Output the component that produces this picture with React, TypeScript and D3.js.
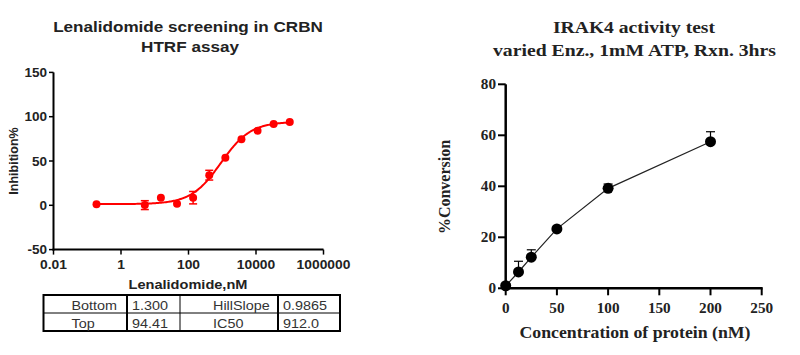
import React from "react";
import * as d3 from "d3";

// ---- Left chart data (Lenalidomide, CRBN HTRF) ----
const lenaConc = [0.188, 5.08, 15.2, 45.7, 137, 412, 1235, 3704, 11111, 33333, 100000];
const lenaInhib = [1.2, 0.2, 8.6, 1.8, 8.6, 34, 53.7, 74.5, 84.2, 91.8, 94];
const lenaErr = [0, 5, 0, 0, 7, 5.5, 0, 0, 0, 0, 0];
const lenaXTicks = [0.01, 1, 100, 10000, 1000000];
const lenaXTickLabels = ["0.01", "1", "100", "10000", "1000000"];
const lenaYTicks = [-50, 0, 50, 100, 150];
const fitBottom = 1.3;
const fitTop = 94.41;
const fitHill = 0.9865;
const fitIC50 = 912.0;
const tableRows = [
  ["Bottom", "1.300", "HillSlope", "0.9865"],
  ["Top", "94.41", "IC50", "912.0"],
];

// ---- Right chart data (IRAK4) ----
const irakConc = [0, 12.5, 25, 50, 100, 200];
const irakConv = [1.0, 6.4, 12.2, 23.3, 39.2, 57.5];
const irakErr = [0, 4.2, 2.9, 0, 1.7, 3.9];
const irakXTicks = [0, 50, 100, 150, 200, 250];
const irakYTicks = [0, 20, 40, 60, 80];

const ARIAL = "'Liberation Sans', Arial, sans-serif";
const TIMES = "'Liberation Serif', 'Times New Roman', serif";

type STextProps = {
  x: number;
  y: number;
  sx?: number;
  anchor?: "start" | "middle" | "end";
  family: string;
  size: number;
  bold?: boolean;
  fill?: string;
  children: React.ReactNode;
};

function SText({ x, y, sx = 1, anchor = "start", family, size, bold = true, fill = "#222", children }: STextProps) {
  return (
    <text
      transform={`translate(${x},${y}) scale(${sx},1)`}
      textAnchor={anchor}
      fontFamily={family}
      fontWeight={bold ? "bold" : "normal"}
      fontSize={size}
      fill={fill}
    >
      {children}
    </text>
  );
}

function LeftChart() {
  const x = d3.scaleLog().domain([0.01, 1e6]).range([53.5, 323.5]);
  const y = d3.scaleLinear().domain([-50, 150]).range([249.6, 72.4]);
  const red = "#ff0000";
  const fit = (c: number) => fitBottom + (fitTop - fitBottom) / (1 + Math.pow(fitIC50 / c, fitHill));
  const lo = Math.log10(lenaConc[0]);
  const hi = Math.log10(lenaConc[lenaConc.length - 1]);
  const xs = d3.range(0, 201).map((i) => Math.pow(10, lo + ((hi - lo) * i) / 200));
  const line = d3
    .line<number>()
    .x((c) => x(c))
    .y((c) => y(fit(c)));
  const colX = [71.5, 132, 213, 283];
  return (
    <g>
      <SText x={188} y={32} sx={1.14} anchor="middle" family={ARIAL} size={15}>
        Lenalidomide screening in CRBN
      </SText>
      <SText x={190} y={51.5} sx={1.14} anchor="middle" family={ARIAL} size={15}>
        HTRF assay
      </SText>
      {/* axes */}
      <line x1={53.5} x2={53.5} y1={y(150)} y2={y(-50) + 1} stroke="#000" strokeWidth={2} />
      <line x1={52.5} x2={x(1e6)} y1={y(-50)} y2={y(-50)} stroke="#000" strokeWidth={2} />
      {lenaYTicks.map((t) => (
        <g key={"ly" + t}>
          <line x1={49} x2={53.5} y1={y(t)} y2={y(t)} stroke="#000" strokeWidth={1.5} />
          <SText x={47} y={y(t) + 4.5} sx={1.06} anchor="end" family={ARIAL} size={12.8}>
            {t}
          </SText>
        </g>
      ))}
      {lenaXTicks.map((t, i) => (
        <g key={"lx" + t}>
          <line x1={x(t)} x2={x(t)} y1={y(-50)} y2={y(-50) + 5} stroke="#000" strokeWidth={1.5} />
          <SText x={x(t)} y={269} sx={1.08} anchor="middle" family={ARIAL} size={12.8}>
            {lenaXTickLabels[i]}
          </SText>
        </g>
      ))}
      <SText x={188} y={288.5} sx={1.12} anchor="middle" family={ARIAL} size={13}>
        Lenalidomide,nM
      </SText>
      <text
        transform={`translate(18,161) rotate(-90)`}
        textAnchor="middle"
        fontFamily={ARIAL}
        fontWeight="bold"
        fontSize={12.5}
        fill="#222"
      >
        Inhibition%
      </text>
      {/* fit curve */}
      <path d={line(xs) || ""} fill="none" stroke={red} strokeWidth={2} />
      {/* error bars */}
      {lenaConc.map((c, i) =>
        lenaErr[i] > 0 ? (
          <g key={"le" + i} stroke={red} strokeWidth={1.5}>
            <line x1={x(c)} x2={x(c)} y1={y(lenaInhib[i] - lenaErr[i])} y2={y(lenaInhib[i] + lenaErr[i])} />
            <line x1={x(c) - 4} x2={x(c) + 4} y1={y(lenaInhib[i] - lenaErr[i])} y2={y(lenaInhib[i] - lenaErr[i])} />
            <line x1={x(c) - 4} x2={x(c) + 4} y1={y(lenaInhib[i] + lenaErr[i])} y2={y(lenaInhib[i] + lenaErr[i])} />
          </g>
        ) : null
      )}
      {lenaConc.map((c, i) => (
        <circle key={"lp" + i} cx={x(c)} cy={y(lenaInhib[i])} r={4} fill={red} />
      ))}
      {/* table */}
      <g>
        <rect x={43.5} y={295} width={296.5} height={36} fill="none" stroke="#000" strokeWidth={2} />
        <line x1={43.5} x2={340} y1={313} y2={313} stroke="#000" strokeWidth={1} />
        <line x1={127} x2={127} y1={295} y2={331} stroke="#000" strokeWidth={2} />
        <line x1={180} x2={180} y1={295} y2={331} stroke="#000" strokeWidth={1} />
        <line x1={278} x2={278} y1={295} y2={331} stroke="#000" strokeWidth={2} />
        {tableRows.map((row, r) => (
          <g key={"tr" + r}>
            {row.map((cell, c) => (
              <SText key={"c" + c} x={colX[c]} y={310 + r * 18} sx={1.2} family={ARIAL} size={12} bold={false} fill="#333">
                {cell}
              </SText>
            ))}
          </g>
        ))}
      </g>
    </g>
  );
}

function RightChart() {
  const x = d3.scaleLinear().domain([0, 250]).range([505.7, 761.7]);
  const y = d3.scaleLinear().domain([0, 80]).range([288.3, 84.3]);
  const line = d3
    .line<number>()
    .x((_, i) => x(irakConc[i]))
    .y((v) => y(v));
  return (
    <g>
      <text
        x={634}
        y={33}
        textAnchor="middle"
        fontFamily={TIMES}
        fontWeight="bold"
        fontSize={16.5}
        fill="#222"
        textLength={162}
        lengthAdjust="spacingAndGlyphs"
      >
        IRAK4 activity test
      </text>
      <text
        x={634.5}
        y={56}
        textAnchor="middle"
        fontFamily={TIMES}
        fontWeight="bold"
        fontSize={16.5}
        fill="#222"
        textLength={283}
        lengthAdjust="spacingAndGlyphs"
      >
        varied Enz., 1mM ATP, Rxn. 3hrs
      </text>
      <line x1={505.7} x2={505.7} y1={y(80)} y2={y(0) + 1} stroke="#000" strokeWidth={2.5} />
      <line x1={504.5} x2={x(250) + 1} y1={y(0)} y2={y(0)} stroke="#000" strokeWidth={2.5} />
      {irakYTicks.map((t) => (
        <g key={"ry" + t}>
          <line x1={498} x2={505.7} y1={y(t)} y2={y(t)} stroke="#000" strokeWidth={2} />
          <SText x={496} y={y(t) + 5} sx={1.05} anchor="end" family={TIMES} size={14.5}>
            {t}
          </SText>
        </g>
      ))}
      {irakXTicks.map((t) => (
        <g key={"rx" + t}>
          <line x1={x(t)} x2={x(t)} y1={y(0)} y2={y(0) + 7} stroke="#000" strokeWidth={2} />
          <SText x={x(t)} y={313} sx={1.05} anchor="middle" family={TIMES} size={14.5}>
            {t}
          </SText>
        </g>
      ))}
      <text
        x={635}
        y={338}
        textAnchor="middle"
        fontFamily={TIMES}
        fontWeight="bold"
        fontSize={16}
        fill="#222"
        textLength={231}
        lengthAdjust="spacingAndGlyphs"
      >
        Concentration of protein (nM)
      </text>
      <text
        transform={`translate(450,187) rotate(-90)`}
        textAnchor="middle"
        fontFamily={TIMES}
        fontWeight="bold"
        fontSize={16}
        fill="#222"
      >
        %Conversion
      </text>
      <path d={line(irakConv) || ""} fill="none" stroke="#222" strokeWidth={1.2} />
      {irakConc.map((c, i) =>
        irakErr[i] > 0 ? (
          <g key={"re" + i} stroke="#000" strokeWidth={1.2}>
            <line x1={x(c)} x2={x(c)} y1={y(irakConv[i])} y2={y(irakConv[i] + irakErr[i])} />
            <line x1={x(c) - 4.5} x2={x(c) + 4.5} y1={y(irakConv[i] + irakErr[i])} y2={y(irakConv[i] + irakErr[i])} />
          </g>
        ) : null
      )}
      {irakConc.map((c, i) => (
        <circle key={"rp" + i} cx={x(c)} cy={y(irakConv[i])} r={5.5} fill="#000" />
      ))}
    </g>
  );
}

export default function App() {
  return (
    <svg width={800} height={355} style={{ position: "absolute", left: 0, top: 0, background: "#fff" }}>
      <rect x={0} y={0} width={800} height={355} fill="#fff" />
      <LeftChart />
      <RightChart />
    </svg>
  );
}
